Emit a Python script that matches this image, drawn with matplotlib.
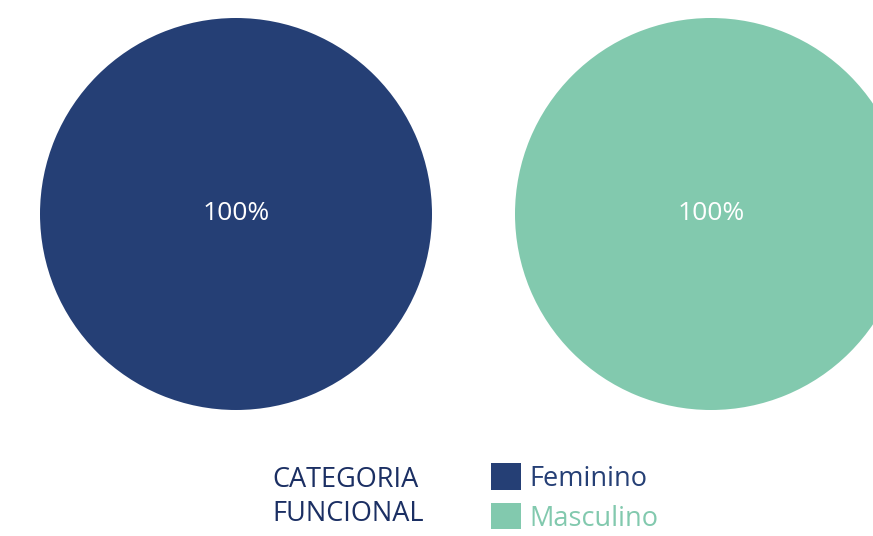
import matplotlib.pyplot as plt
from matplotlib.patches import Patch

categories = ['Feminino', 'Masculino']
values = [100, 100]
colors = ['#253f75', '#82c9ae']
legend_title = 'CATEGORIA\nFUNCIONAL'

plt.rcParams['font.family'] = ['Open Sans', 'DejaVu Sans']

W, H = 873, 536
fig = plt.figure(figsize=(W / 100, H / 100), dpi=100)

# one pie per category, each holding 100%
centers = [(236, 214), (711, 214)]
r = 196
for (cx, cy), val, col in zip(centers, values, colors):
    ax = fig.add_axes([(cx - r) / W, (H - cy - r) / H, 2 * r / W, 2 * r / H])
    ax.pie([val], colors=[col], autopct='%d%%', radius=1,
           textprops=dict(color='white', fontsize=19),
           pctdistance=0, startangle=90)
    ax.set_xlim(-1, 1)
    ax.set_ylim(-1, 1)
    ax.set_aspect('equal')

fig.text(272 / W, 1 - 497 / H, legend_title, color='#1b2f63', fontsize=19.5,
         va='center', ha='left', linespacing=1.25)

handles = [Patch(facecolor=c, edgecolor='none') for c in colors]
fig.legend(handles, categories, loc='center left', bbox_to_anchor=(491 / W, 1 - 498 / H),
           frameon=False, labelcolor=colors, handlelength=1.12,
           handleheight=1.12, handletextpad=0.3, labelspacing=0.38,
           borderpad=0, borderaxespad=0, prop=dict(size=19.5))

fig.savefig('out.png', dpi=100)
